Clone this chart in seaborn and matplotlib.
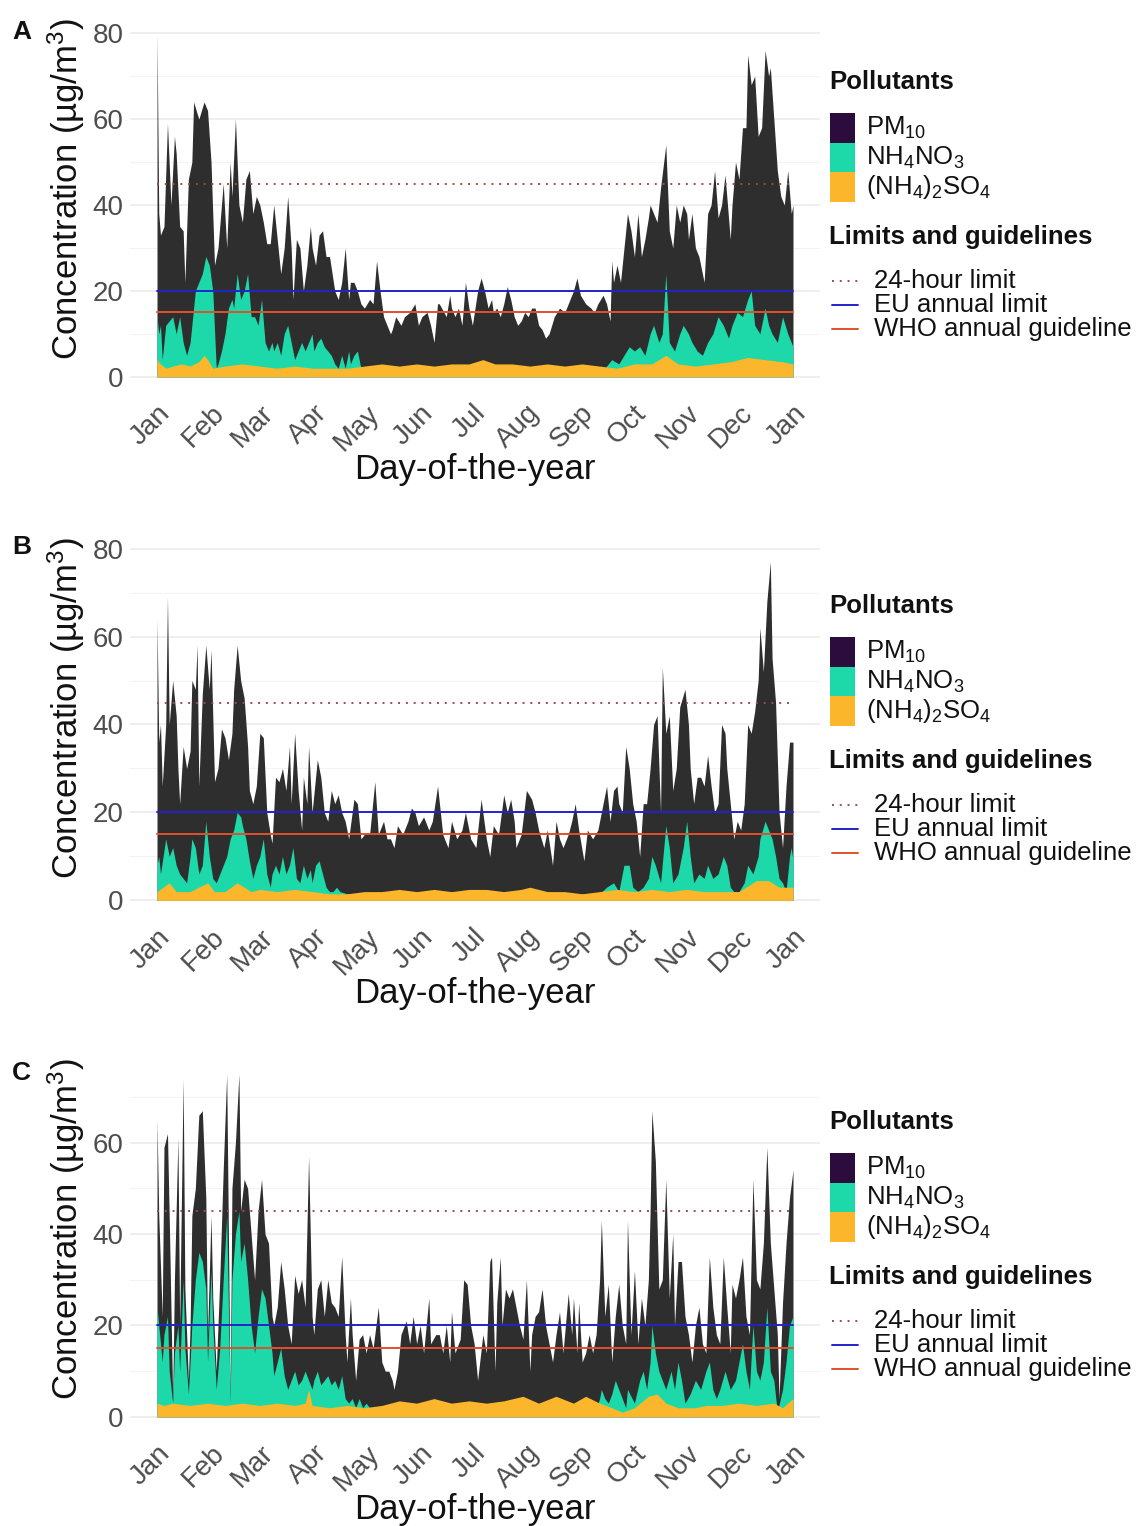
import pandas as pd
import seaborn as sns
import matplotlib.pyplot as plt
from matplotlib.patches import Rectangle
from matplotlib.lines import Line2D

# ---- panel A ----
a_pm10_day = [1, 2, 3, 5, 7, 9, 11, 12, 14, 16,
              17, 19, 21, 22, 25, 28, 30, 32, 34, 36,
              39, 41, 43, 44, 46, 48, 50, 52, 54, 56,
              58, 60, 62, 64, 66, 68, 70, 72, 74, 76,
              78, 79, 81, 83, 85, 87, 89, 90, 92, 94,
              96, 98, 100, 103, 105, 107, 109, 111, 112, 114,
              116, 118, 120, 123, 125, 127, 129, 131, 133, 135,
              136, 138, 141, 143, 146, 149, 151, 153, 156, 158,
              160, 162, 163, 167, 169, 170, 172, 174, 176, 178,
              180, 182, 185, 187, 189, 191, 193, 194, 196, 198,
              200, 202, 204, 206, 208, 210, 212, 214, 216, 218,
              220, 222, 224, 226, 229, 232, 235, 238, 240, 242,
              244, 247, 250, 252, 254, 257, 259, 261, 262, 263,
              265, 267, 269, 271, 273, 275, 277, 279, 281, 283,
              284, 286, 288, 290, 293, 295, 297, 299, 301, 303,
              305, 306, 308, 310, 312, 315, 317, 319, 321, 323,
              325, 327, 330, 331, 333, 335, 337, 339, 340, 342,
              344, 346, 348, 350, 352, 353, 355, 357, 359, 361,
              363, 365, 366]
a_pm10 = [80, 38, 33, 35, 59, 40, 56, 52, 35, 34,
          22, 46, 50, 64, 60, 64, 62, 50, 26, 30,
          45, 30, 50, 42, 60, 40, 36, 46, 48, 38,
          42, 40, 36, 31, 31, 40, 32, 24, 30, 42,
          30, 18, 32, 30, 20, 26, 35, 30, 26, 33,
          34, 28, 28, 20, 18, 22, 30, 18, 22, 22,
          20, 17, 16, 18, 17, 27, 20, 14, 12, 10,
          11, 14, 12, 14, 15, 17, 12, 14, 15, 12,
          8, 17, 17, 14, 19, 16, 14, 16, 12, 22,
          16, 12, 20, 23, 20, 16, 18, 15, 16, 14,
          17, 21, 18, 14, 12, 13, 15, 14, 16, 16,
          12, 11, 9, 10, 14, 16, 15, 18, 20, 23,
          19, 17, 16, 15, 17, 19, 17, 13, 27, 22,
          26, 22, 30, 38, 34, 28, 38, 28, 32, 37,
          40, 38, 36, 44, 54, 34, 30, 40, 36, 40,
          38, 32, 38, 30, 28, 22, 38, 40, 48, 37,
          40, 47, 32, 40, 50, 46, 58, 58, 75, 68,
          70, 56, 58, 76, 70, 72, 60, 48, 42, 40,
          48, 38, 40]
a_no3_day = [1, 2, 3, 4, 6, 8, 10, 12, 14, 16,
             18, 20, 21, 23, 25, 27, 29, 31, 33, 35,
             36, 38, 40, 42, 44, 45, 47, 49, 51, 53,
             55, 57, 59, 61, 63, 65, 67, 68, 70, 72,
             74, 76, 78, 80, 82, 84, 86, 88, 90, 91,
             93, 95, 97, 99, 101, 103, 105, 107, 109, 111,
             112, 114, 116, 118, 120, 130, 150, 170, 200, 230,
             258, 262, 266, 269, 272, 275, 278, 281, 284, 286,
             289, 291, 293, 295, 298, 301, 303, 306, 308, 311,
             314, 317, 320, 323, 326, 329, 331, 334, 337, 340,
             342, 344, 347, 350, 352, 354, 357, 360, 363, 366]
a_no3 = [14, 10, 12, 4, 12, 13, 14, 10, 14, 8,
         5, 8, 12, 20, 22, 24, 28, 26, 20, 2,
         3, 6, 10, 16, 18, 16, 24, 18, 20, 24,
         14, 14, 12, 18, 8, 6, 8, 6, 8, 5,
         10, 12, 8, 4, 6, 8, 6, 8, 10, 6,
         8, 9, 7, 6, 5, 3, 2, 5, 2, 6,
         3, 5, 6, 2, 2, 1.5, 2, 1.5, 1.5, 1.5,
         2, 4, 3, 5, 7, 6, 7, 5, 10, 12,
         8, 10, 24, 8, 6, 10, 12, 10, 8, 6,
         5, 8, 10, 14, 12, 9, 12, 15, 14, 18,
         20, 12, 10, 16, 12, 10, 8, 14, 10, 7]
a_so4_day = [1, 3, 6, 10, 15, 20, 25, 28, 30, 33, 40, 50, 60, 70, 80,
             90, 100, 110, 120, 130, 140, 150, 160, 170, 180, 188, 195,
             205, 215, 225, 235, 245, 255, 265, 275, 285, 293, 300, 310,
             320, 330, 340, 350, 360, 366]
a_so4 = [4, 3, 2, 2.5, 3, 2.5, 3.5, 5, 4, 2, 2.5, 3, 2.5, 2, 2.5,
         2, 2, 2, 2.5, 3, 2.5, 3, 2.5, 3, 3, 4, 3,
         3, 2.5, 3, 2.5, 3, 2.5, 2, 3, 3, 5, 3, 2.5,
         3, 3.5, 4.5, 4, 3.5, 3]

# ---- panel B ----
b_pm10_day = [1, 2, 3, 4, 6, 7, 8, 10, 12, 13,
              14, 16, 18, 20, 21, 23, 24, 25, 27, 29,
              31, 32, 34, 36, 38, 40, 42, 44, 45, 47,
              49, 51, 53, 54, 56, 58, 60, 62, 64, 66,
              67, 69, 71, 73, 75, 77, 78, 80, 82, 84,
              85, 87, 88, 90, 91, 93, 95, 97, 99, 101,
              103, 105, 107, 109, 111, 112, 114, 116, 118, 120,
              123, 126, 128, 131, 133, 135, 137, 139, 142, 145,
              147, 149, 151, 154, 157, 159, 162, 165, 168, 170,
              173, 176, 178, 181, 184, 187, 190, 192, 194, 197,
              200, 202, 204, 206, 207, 210, 213, 216, 218, 220,
              223, 225, 228, 230, 232, 234, 237, 239, 241, 243,
              246, 248, 251, 254, 257, 259, 261, 263, 265, 266,
              268, 270, 272, 274, 276, 278, 280, 282, 284, 286,
              288, 290, 291, 293, 295, 297, 299, 301, 304, 306,
              307, 309, 311, 313, 315, 317, 319, 321, 323, 325,
              327, 328, 330, 332, 334, 336, 338, 340, 342, 344,
              346, 347, 349, 351, 353, 354, 356, 358, 360, 362,
              364, 366]
b_pm10 = [64, 36, 40, 26, 40, 69, 40, 50, 42, 30,
          22, 35, 30, 34, 50, 48, 58, 26, 47, 58,
          48, 57, 27, 30, 39, 37, 32, 38, 48, 58,
          50, 46, 35, 25, 22, 26, 38, 37, 20, 15,
          13, 28, 27, 30, 25, 35, 22, 38, 25, 16,
          28, 22, 35, 20, 24, 32, 28, 20, 18, 25,
          22, 24, 20, 18, 14, 17, 23, 22, 14, 15,
          15, 27, 15, 18, 14, 14, 12, 17, 15, 18,
          21, 20, 17, 19, 16, 18, 26, 15, 12, 18,
          14, 16, 20, 14, 12, 23, 14, 10, 17, 15,
          24, 20, 23, 18, 12, 15, 25, 23, 20, 16,
          12, 16, 8, 18, 14, 12, 15, 18, 22, 16,
          9, 16, 14, 16, 22, 26, 18, 25, 26, 22,
          20, 35, 30, 22, 18, 10, 22, 22, 30, 40,
          42, 20, 53, 38, 42, 25, 30, 44, 48, 40,
          30, 22, 28, 28, 26, 33, 26, 20, 22, 40,
          38, 30, 22, 14, 18, 16, 22, 40, 38, 43,
          50, 62, 52, 68, 77, 55, 45, 20, 12, 26,
          36, 36]
b_no3_day = [1, 2, 3, 6, 8, 10, 12, 14, 16, 18,
             20, 21, 23, 25, 27, 29, 31, 33, 35, 37,
             39, 41, 43, 45, 47, 49, 50, 52, 54, 56,
             58, 60, 62, 64, 66, 67, 69, 71, 73, 75,
             77, 79, 81, 83, 85, 87, 89, 90, 92, 94,
             96, 98, 100, 102, 104, 106, 110, 140, 180, 220,
             255, 259, 263, 266, 269, 272, 274, 277, 280, 283,
             285, 287, 290, 293, 295, 297, 300, 303, 305, 307,
             309, 312, 315, 317, 320, 323, 326, 328, 330, 332,
             335, 338, 340, 343, 346, 347, 350, 352, 354, 356,
             358, 360, 362, 364, 365, 366]
b_no3 = [8, 10, 6, 14, 10, 12, 8, 6, 5, 4,
         10, 14, 12, 6, 8, 18, 10, 5, 4, 6,
         8, 10, 14, 16, 20, 19, 17, 14, 9, 5,
         8, 10, 14, 6, 3, 6, 8, 6, 10, 6,
         8, 12, 5, 4, 8, 5, 7, 4, 8, 9,
         6, 3, 2, 2, 3, 2, 1.5, 1.5, 1.5, 1.5,
         1.5, 3, 4, 2, 8, 8, 3, 2, 3, 5,
         10, 8, 4, 17, 12, 4, 6, 12, 18, 10,
         4, 6, 5, 8, 5, 6, 10, 8, 3, 2,
         2, 4, 8, 6, 10, 14, 18, 16, 14, 10,
         5, 4, 2, 10, 12, 9]
b_so4_day = [1, 8, 12, 20, 30, 34, 40, 47, 55, 60, 70, 80, 90, 100,
             110, 120, 130, 140, 150, 160, 170, 180, 190, 200, 210,
             215, 225, 235, 245, 255, 265, 275, 285, 295, 305, 315,
             325, 335, 345, 352, 358, 366]
b_so4 = [2, 4, 2, 2, 4, 2, 2, 4, 2, 2.5, 2, 2.5, 2, 1.5,
         1.5, 2, 2, 2.5, 2, 2.5, 2, 2.5, 2.5, 2, 2.5,
         3, 2, 2, 1.5, 2, 2.5, 2, 2.5, 2, 2.5, 2,
         2, 2, 4.5, 4.5, 3, 3]

# ---- panel C ----
c_pm10_day = [1, 2, 4, 5, 7, 8, 10, 11, 13, 14,
              16, 17, 19, 20, 21, 23, 25, 27, 29, 30,
              32, 33, 35, 37, 39, 41, 43, 44, 46, 48,
              49, 51, 53, 55, 57, 59, 61, 63, 65, 67,
              68, 70, 72, 74, 76, 78, 80, 82, 84, 86,
              88, 90, 91, 93, 95, 97, 99, 101, 103, 105,
              107, 109, 110, 112, 113, 115, 117, 119, 121, 123,
              125, 128, 130, 132, 134, 136, 137, 139, 141, 144,
              146, 148, 150, 152, 154, 157, 158, 161, 163, 165,
              167, 169, 170, 172, 175, 177, 179, 181, 183, 185,
              188, 190, 192, 193, 195, 196, 198, 199, 201, 203,
              205, 207, 209, 211, 213, 215, 216, 218, 220, 222,
              224, 226, 228, 230, 232, 234, 237, 239, 240, 242,
              243, 245, 247, 249, 251, 253, 255, 256, 258, 260,
              262, 264, 266, 268, 270, 271, 273, 275, 277, 279,
              281, 283, 284, 285, 287, 289, 291, 293, 295, 297,
              298, 300, 302, 304, 306, 308, 310, 312, 314, 316,
              318, 320, 322, 324, 326, 328, 330, 331, 333, 335,
              337, 339, 341, 343, 345, 347, 349, 351, 353, 355,
              357, 358, 360, 362, 364, 366]
c_pm10 = [65, 44, 22, 59, 62, 44, 4, 30, 61, 20,
          74, 28, 8, 20, 44, 50, 66, 67, 48, 18,
          44, 26, 10, 30, 54, 75, 4, 50, 60, 75,
          45, 52, 50, 40, 30, 45, 52, 40, 38, 22,
          20, 24, 34, 28, 20, 16, 31, 27, 30, 24,
          57, 22, 18, 28, 30, 22, 30, 25, 24, 22,
          35, 18, 12, 26, 18, 8, 17, 18, 14, 18,
          15, 24, 12, 10, 10, 8, 6, 10, 18, 21,
          16, 22, 16, 20, 14, 26, 16, 18, 18, 14,
          20, 12, 23, 14, 17, 30, 29, 20, 16, 8,
          18, 14, 34, 35, 10, 25, 35, 20, 28, 26,
          28, 24, 20, 17, 30, 10, 18, 22, 23, 28,
          20, 16, 12, 18, 23, 14, 27, 18, 26, 14,
          25, 12, 14, 18, 14, 18, 30, 43, 22, 29,
          12, 22, 29, 20, 16, 43, 18, 32, 16, 26,
          20, 30, 45, 67, 56, 28, 30, 52, 26, 40,
          20, 34, 34, 22, 18, 12, 20, 24, 16, 14,
          35, 24, 18, 16, 35, 24, 14, 29, 26, 30,
          35, 22, 18, 52, 30, 28, 38, 59, 38, 28,
          18, 4, 25, 38, 48, 54]
c_no3_day = [1, 2, 4, 5, 7, 8, 10, 11, 13, 14,
             16, 17, 19, 20, 21, 23, 25, 27, 29, 30,
             32, 33, 35, 37, 39, 41, 43, 44, 46, 48,
             49, 51, 53, 55, 57, 59, 61, 63, 65, 67,
             68, 70, 72, 74, 76, 78, 80, 82, 84, 86,
             88, 90, 91, 93, 95, 97, 99, 101, 103, 105,
             107, 109, 111, 113, 115, 117, 119, 121, 123, 126,
             130, 134, 138, 180, 220, 253, 255, 256, 258, 260,
             262, 264, 266, 268, 270, 271, 275, 278, 280, 282,
             284, 285, 287, 289, 291, 293, 296, 298, 300, 302,
             304, 307, 310, 313, 316, 318, 320, 322, 324, 327,
             330, 333, 335, 337, 339, 341, 343, 345, 347, 349,
             351, 353, 355, 357, 360, 362, 364, 366]
c_no3 = [24, 20, 12, 18, 22, 10, 3, 14, 20, 10,
         30, 15, 5, 12, 20, 30, 36, 34, 28, 12,
         32, 20, 6, 15, 30, 44, 3, 30, 40, 45,
         34, 38, 30, 20, 14, 22, 28, 26, 20, 14,
         9, 12, 15, 9, 6, 8, 10, 7, 8, 10,
         8, 6, 8, 10, 7, 8, 9, 7, 8, 6,
         9, 4, 3, 4, 2, 4, 2, 3, 2, 2,
         2, 1.5, 1.5, 1.5, 1.5, 1.5, 4, 6, 4, 3,
         5, 8, 6, 4, 2, 6, 3, 8, 10, 6,
         12, 20, 14, 10, 8, 6, 10, 6, 12, 8,
         3, 5, 8, 6, 10, 12, 6, 4, 6, 10,
         6, 8, 12, 16, 10, 6, 20, 10, 8, 12,
         24, 10, 8, 1, 6, 12, 20, 22]
c_so4_day = [1, 5, 10, 20, 30, 40, 50, 60, 70, 80, 86, 88, 90, 100,
             110, 120, 130, 140, 150, 160, 170, 180, 190, 200, 211,
             220, 230, 240, 247, 255, 262, 268, 275, 283, 288, 293,
             300, 310, 316, 325, 335, 345, 355, 360, 366]
c_so4 = [3, 2.5, 3, 2.5, 3, 2.5, 3, 2.5, 3, 2.5, 3, 6, 2.5, 2,
         2.5, 2, 2.5, 3.5, 3, 4, 3, 3.5, 3, 3.5, 4.5,
         3, 4.5, 3, 4.5, 3, 2, 1, 2, 4.5, 5, 3,
         2, 2, 2.5, 2.5, 3, 2.5, 3, 2, 4]

month_days = [1, 32, 60, 91, 121, 152, 182, 213, 244, 274, 305, 335, 366]
month_labels = ["Jan", "Feb", "Mar", "Apr", "May", "Jun", "Jul", "Aug",
                "Sep", "Oct", "Nov", "Dec", "Jan"]

limit_24h = 45
limit_eu = 20
guide_who = 15

COL_PM = "#2e2e2e"
COL_PM_KEY = "#2b0c3c"
COL_NO3 = "#1dd9aa"
COL_SO4 = "#fcb62b"
COL_24H = "#9b4d4d"
COL_EU = "#2323c8"
COL_WHO = "#e0502d"

sns.set_theme(style="white")
plt.rcParams['font.family'] = ['Liberation Sans', 'DejaVu Sans']
plt.rcParams['mathtext.default'] = 'regular'

W, H = 1138, 1526
fig = plt.figure(figsize=(W / 100, H / 100), dpi=100)

panels = [
    ("A", a_pm10_day, a_pm10, a_no3_day, a_no3, a_so4_day, a_so4,
     (16, 394), (-4, 84), [0, 20, 40, 60, 80], 0),
    ("B", b_pm10_day, b_pm10, b_no3_day, b_no3, b_so4_day, b_so4,
     (531, 918), (-4, 84), [0, 20, 40, 60, 80], 524),
    ("C", c_pm10_day, c_pm10, c_no3_day, c_no3, c_so4_day, c_so4,
     (1057, 1434), (-3.75, 78.75), [0, 20, 40, 60], 1040),
]

AX_L, AX_R = 130, 820


def fx(px):
    return px / W


def fy(py):
    return 1 - py / H


for (letter, pm_d, pm_v, no_d, no_v, so_d, so_v,
     (top, bot), ylim, yticks, leg_off) in panels:
    ax = fig.add_axes([fx(AX_L), fy(bot), (AX_R - AX_L) / W, (bot - top) / H])

    pm = pd.DataFrame({"day": pm_d, "value": pm_v})
    no3 = pd.DataFrame({"day": no_d, "value": no_v})
    so4 = pd.DataFrame({"day": so_d, "value": so_v})

    ax.fill_between(pm["day"], pm["value"], 0, color=COL_PM, lw=0, zorder=2)
    ax.fill_between(no3["day"], no3["value"], 0, color=COL_NO3, lw=0, zorder=3)
    ax.fill_between(so4["day"], so4["value"], 0, color=COL_SO4, lw=0, zorder=4)

    for val, col, ls in [(limit_24h, COL_24H, (0, (1, 3))),
                         (limit_eu, COL_EU, "-"),
                         (guide_who, COL_WHO, "-")]:
        ref = pd.DataFrame({"day": [1, 366], "value": [val, val]})
        sns.lineplot(data=ref, x="day", y="value", ax=ax, color=col,
                     linestyle=ls, lw=1.4, zorder=5)

    ax.set_xlim(-14.5, 381.5)
    ax.set_ylim(*ylim)
    ax.set_yticks(yticks)
    ax.set_yticks([t + 10 for t in yticks if t + 10 < ylim[1]], minor=True)
    ax.grid(axis="y", which="major", color="#ebebeb", lw=1.2, zorder=0)
    ax.grid(axis="y", which="minor", color="#f3f3f3", lw=0.8, zorder=0)
    ax.grid(axis="x", visible=False)
    ax.set_axisbelow(True)
    for s in ax.spines.values():
        s.set_visible(False)

    ax.set_xticks(month_days)
    ax.set_xticklabels(month_labels, rotation=45, ha="right",
                       rotation_mode="anchor")
    ax.tick_params(axis="both", which="major", labelsize=20, colors="#c8c8c8",
                   labelcolor="#4d4d4d", length=3, width=0.8, pad=1.5)
    ax.tick_params(axis="y", which="minor", length=0)

    ax.set_xlabel("Day-of-the-year", fontsize=25, color="#111111")
    ax.set_ylabel("Concentration (µg/m$^3$)", fontsize=25, color="#111111")
    hpx = bot - top
    ax.xaxis.set_label_coords(0.5, -59 / hpx)
    ax.yaxis.set_label_coords(-43 / (AX_R - AX_L), 0.5 + 16 / hpx)

    # panel letter
    fig.text(fx(12), fy(top + 16), letter, fontsize=19, fontweight="bold",
             va="center", ha="left", color="#111111")

    # legend: pollutants
    fig.text(fx(829), fy(82 + leg_off), "Pollutants", fontsize=18.5,
             fontweight="bold", va="center", ha="left", color="#111111")
    keys = [(COL_PM_KEY, "PM$_{10}$", 113),
            (COL_NO3, "NH$_4$NO$_3$", 143),
            (COL_SO4, "(NH$_4$)$_2$SO$_4$", 172)]
    for col, lab, y0 in keys:
        fig.add_artist(Rectangle((fx(830), fy(y0 + 30 + leg_off)),
                                 25 / W, 30 / H, transform=fig.transFigure,
                                 color=col, lw=0))
        fig.text(fx(866), fy(y0 + 15 + leg_off), lab, fontsize=18.5,
                 va="center", ha="left", color="#111111")

    # legend: limits
    fig.text(fx(829), fy(237 + leg_off), "Limits and guidelines",
             fontsize=18.5, fontweight="bold", va="center", ha="left",
             color="#111111")
    lines = [(COL_24H, (0, (1, 3)), "24-hour limit", 281),
             (COL_EU, "-", "EU annual limit", 305),
             (COL_WHO, "-", "WHO annual guideline", 329)]
    for col, ls, lab, yy in lines:
        fig.add_artist(Line2D([fx(832), fx(858)],
                              [fy(yy + leg_off), fy(yy + leg_off)],
                              transform=fig.transFigure, color=col,
                              linestyle=ls, lw=1.4))
        fig.text(fx(874), fy(yy + leg_off), lab, fontsize=18.5,
                 va="center", ha="left", color="#111111")

fig.savefig("out.png", dpi=100)
